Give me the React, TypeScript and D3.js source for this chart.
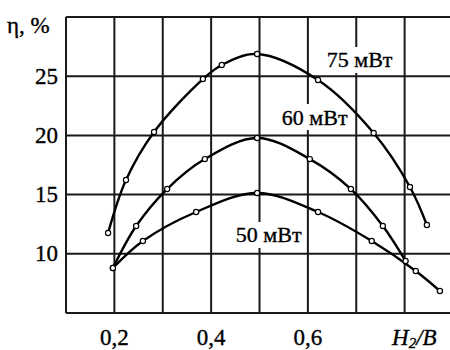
import React from "react";
import * as d3 from "d3";

const xTicks = [0.2, 0.4, 0.6];
const xTickLabels = ["0,2", "0,4", "0,6"];
const xGrid = [0.2, 0.3, 0.4, 0.5, 0.6, 0.7, 0.8];
const yTicks = [10, 15, 20, 25];
const yTickLabels = ["10", "15", "20", "25"];

const p75x = [0.187, 0.224, 0.282, 0.383, 0.422, 0.495, 0.621, 0.736, 0.811, 0.846];
const p75y = [11.76, 16.23, 20.29, 24.76, 25.95, 26.88, 24.68, 20.2, 15.64, 12.43];
const p60x = [0.197, 0.245, 0.309, 0.387, 0.495, 0.604, 0.689, 0.755, 0.802];
const p60y = [8.8, 12.35, 15.47, 18.0, 19.78, 18.0, 15.47, 12.35, 9.39];
const p50x = [0.197, 0.259, 0.369, 0.495, 0.621, 0.732, 0.823, 0.873];
const p50y = [8.8, 11.08, 13.53, 15.14, 13.53, 11.08, 8.55, 6.86];

const seriesNames = ["75 мВт", "60 мВт", "50 мВт"];
const labelX = [0.707, 0.614, 0.519];
const labelY = [26.37, 21.55, 11.59];

const W = 450;
const H = 350;
const FONT = "'Liberation Serif', 'Times New Roman', serif";
const INK = "#1a1a1a";

export default function App() {
  const x = d3.scaleLinear().domain([0.1, 0.9]).range([66, 453]);
  const y = d3.scaleLinear().domain([5, 30]).range([313, 17]);

  const series = [
    p75x.map((v, i) => [v, p75y[i]] as [number, number]),
    p60x.map((v, i) => [v, p60y[i]] as [number, number]),
    p50x.map((v, i) => [v, p50y[i]] as [number, number]),
  ];

  const line = d3
    .line<[number, number]>()
    .x((d) => x(d[0]))
    .y((d) => y(d[1]))
    .curve(d3.curveCatmullRom.alpha(0.5));

  const ts = { fontFamily: FONT };
  const thick = { stroke: "#000", strokeWidth: 0.35 };

  return (
    <svg
      width={W}
      height={H}
      style={{ position: "absolute", left: 0, top: 0, background: "#fff", fontFamily: FONT }}
    >
      <g stroke={INK} strokeWidth={2}>
        {xGrid.map((v) => (
          <line key={"xg" + v} x1={x(v)} x2={x(v)} y1={y(30)} y2={y(5)} />
        ))}
        {yTicks.map((v) => (
          <line key={"yg" + v} x1={x(0.1)} x2={W} y1={y(v)} y2={y(v)} />
        ))}
        <line x1={x(0.1)} x2={x(0.1)} y1={y(30)} y2={y(5)} />
        <line x1={x(0.1)} x2={W} y1={y(30)} y2={y(30)} />
        <line x1={x(0.1)} x2={W} y1={y(5)} y2={y(5)} />
      </g>

      {seriesNames.map((n, i) => (
        <g key={n}>
          <rect
            x={x(labelX[i]) - 37}
            y={y(labelY[i]) - 13}
            width={74}
            height={26}
            fill="#fff"
          />
          <text
            x={x(labelX[i])}
            y={y(labelY[i])}
            textAnchor="middle"
            dominantBaseline="central"
            fontSize={22}
            fill="#000"
            style={ts}
            {...thick}
          >
            {n}
          </text>
        </g>
      ))}

      {series.map((s, i) => (
        <path key={"c" + i} d={line(s) || ""} fill="none" stroke="#000" strokeWidth={2.4} />
      ))}
      {series.map((s, i) =>
        s.map((d, j) => (
          <circle
            key={"m" + i + "-" + j}
            cx={x(d[0])}
            cy={y(d[1])}
            r={2.6}
            fill="#fff"
            stroke="#000"
            strokeWidth={1.2}
          />
        ))
      )}

      {yTicks.map((v, i) => (
        <text
          key={"yt" + v}
          x={58}
          y={y(v)}
          textAnchor="end"
          dominantBaseline="central"
          fontSize={23}
          fill="#000"
          style={ts}
          {...thick}
        >
          {yTickLabels[i]}
        </text>
      ))}
      <text x={7} y={25} dominantBaseline="central" fontSize={23} fill="#000" style={ts} {...thick}>
        η, %
      </text>

      {xTicks.map((v, i) => (
        <text
          key={"xt" + v}
          x={x(v)}
          y={337}
          textAnchor="middle"
          dominantBaseline="central"
          fontSize={23}
          fill="#000"
          style={ts}
          {...thick}
        >
          {xTickLabels[i]}
        </text>
      ))}
      <text x={392} y={337} dominantBaseline="central" fontSize={23} fontStyle="italic" fill="#000" style={ts} {...thick}>
        H
        <tspan fontSize={15} dy={6}>2</tspan>
        <tspan dy={-6}>/B</tspan>
      </text>
    </svg>
  );
}
